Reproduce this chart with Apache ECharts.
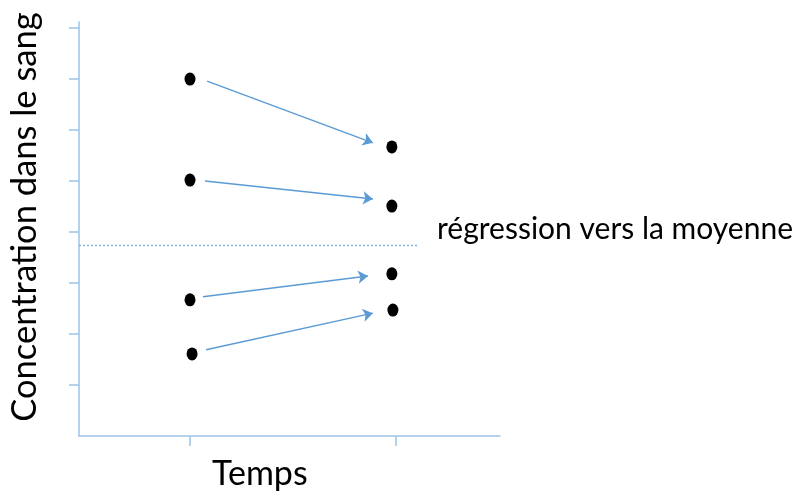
<!DOCTYPE html>
<html>
<head>
<meta charset="utf-8">
<script src="https://cdn.jsdelivr.net/npm/echarts@6/dist/echarts.min.js"></script>
<style>html,body{margin:0;padding:0;background:#fff}#c{width:795px;height:495px}</style>
</head>
<body>
<div id="c"></div>
<script>
// Data
var timeTicks = [1, 2];
var yTicks = [1, 2, 3, 4, 5, 6, 7, 8];
var xBefore = [1.0, 1.0, 1.0, 1.01];
var before = [7.0, 5.02, 2.67, 1.61];
var xAfter = [1.98, 1.98, 1.98, 1.985];
var after = [5.67, 4.51, 3.18, 2.47];
var arrowStartX = [1.083, 1.073, 1.063, 1.078];
var arrowStartY = [6.96, 5.0, 2.73, 1.69];
var arrowEndX = [1.888, 1.888, 1.864, 1.888];
var arrowEndY = [5.75, 4.65, 3.14, 2.41];
var meanLevel = 3.75;
var meanLineEndX = 2.107;
var xLabel = 'Temps';
var yLabel = 'Concentration dans le sang';
var meanLabel = 'régression vers la moyenne';

var font = 'Lato';
var axisColor = '#9DC3E6';
var arrowColor = '#5B9BD5';

var points = [];
for (var i = 0; i < before.length; i++) points.push([xBefore[i], before[i]]);
for (var j = 0; j < after.length; j++) points.push([xAfter[j], after[j]]);
var arrows = [];
for (var k = 0; k < arrowStartX.length; k++) {
  arrows.push({coords: [[arrowStartX[k], arrowStartY[k]], [arrowEndX[k], arrowEndY[k]]]});
}

var chart = echarts.init(document.getElementById('c'));
chart.setOption({
  animation: false,
  grid: {left: 79, right: 295, top: 22, bottom: 59, containLabel: false, outerBoundsMode: 'none'},
  xAxis: {
    type: 'value', min: 0.461, max: 2.505,
    splitLine: {show: false},
    axisLine: {show: true, lineStyle: {color: axisColor, width: 1.5}},
    axisTick: {show: true, length: 10, inside: false, customValues: timeTicks, lineStyle: {color: axisColor, width: 1.5}},
    axisLabel: {show: false}
  },
  yAxis: {
    type: 'value', min: 0, max: 8.12,
    splitLine: {show: false},
    axisLine: {show: true, lineStyle: {color: axisColor, width: 1.5}},
    axisTick: {show: true, length: 10, inside: false, customValues: yTicks, lineStyle: {color: axisColor, width: 1.5}},
    axisLabel: {show: false},
    name: yLabel, nameLocation: 'middle', nameRotate: 90, nameGap: 37,
    nameTextStyle: {fontFamily: font, fontSize: 34.5, color: '#000', padding: [0, 0, 0, 24]}
  },
  graphic: [{
    type: 'text', left: 212, top: 457,
    style: {text: xLabel, font: '34px ' + font, fill: '#000'}
  }],
  series: [{
    type: 'lines', coordinateSystem: 'cartesian2d',
    symbol: ['none', 'arrow'], symbolSize: 10,
    lineStyle: {color: arrowColor, width: 1.5, opacity: 1},
    data: arrows,
    z: 2
  }, {
    type: 'scatter',
    symbol: 'circle', symbolSize: [11, 13],
    itemStyle: {color: '#000', opacity: 1},
    data: points,
    z: 3,
    markLine: {
      silent: true, symbol: 'none',
      lineStyle: {color: '#7FB0E0', type: [2, 2], width: 1.3, opacity: 1},
      label: {show: true, position: 'end', distance: 19, offset: [0, -15], formatter: meanLabel,
        fontFamily: font, fontSize: 30, color: '#000'},
      data: [[{coord: [0.461, meanLevel]}, {coord: [meanLineEndX, meanLevel]}]]
    }
  }]
});
</script>
</body>
</html>
